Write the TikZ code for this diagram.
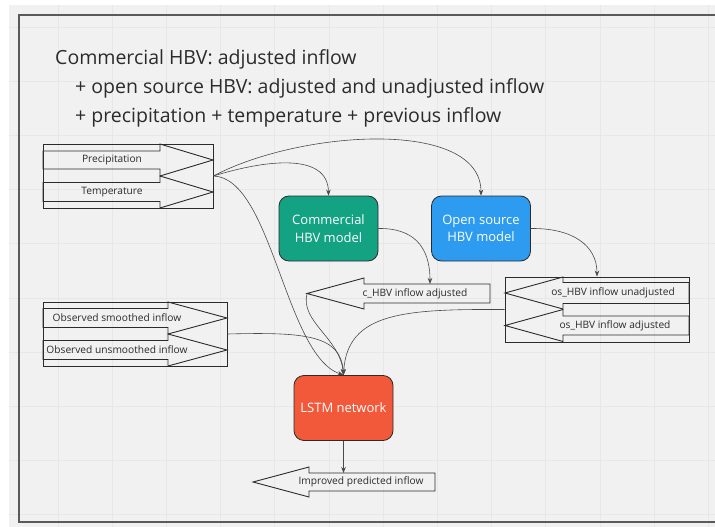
\documentclass[tikz,border=0pt]{standalone}
\usepackage{fontspec}
\setmainfont{Open Sans}
\usetikzlibrary{arrows.meta}

\definecolor{canvas}{HTML}{F1F1F1}
\definecolor{gridc}{HTML}{E7E7E7}
\definecolor{framec}{HTML}{5A5A5A}
\definecolor{inkc}{HTML}{2B2B2B}
\definecolor{wirec}{HTML}{4A4A4A}
\definecolor{commgreen}{HTML}{13A383}
\definecolor{osblue}{HTML}{2D9BF0}
\definecolor{lstmred}{HTML}{F2593A}

% block arrow outline: end x, head base x, tip x, centre y, body half height, head half height
\newcommand\arrowpoly[6]{%
  \draw[shapeline] (#1,#4-#5) -- (#2,#4-#5) -- (#2,#4-#6) -- (#3,#4)
    -- (#2,#4+#6) -- (#2,#4+#5) -- (#1,#4+#5) -- cycle;}

\tikzset{
  shapeline/.style={draw=inkc, line width=0.9pt},
  container/.style={draw=inkc, line width=0.9pt, inner sep=0pt},
  model/.style={draw=inkc, line width=0.8pt, rounded corners=10pt, inner sep=0pt,
    minimum width=99pt, minimum height=65pt, text=white, align=center,
    font=\fontsize{13}{17.5}\selectfont},
  lbl/.style={inner sep=0pt, text=inkc, font=\fontsize{10.2}{12}\selectfont},
  headline/.style={inner sep=0pt, anchor=base west, text=inkc,
    font=\fontsize{19.5}{23}\selectfont},
  wire/.style={draw=wirec, line width=0.6pt},
  wirearrow/.style={wire, -{Stealth[length=6pt,width=4.5pt]}},
}

\begin{document}
\begin{tikzpicture}[x=1pt,y=-1pt]
\useasboundingbox (0,0) rectangle (715,527);

% board background and grid
\fill[white] (0,0) rectangle (715,527);
\fill[canvas] (9,5) rectangle (715,527);
\foreach \i in {0,...,12} \draw[gridc, line width=0.8pt] ({58+54.2*\i},5) -- ({58+54.2*\i},527);
\foreach \j in {0,...,9} \draw[gridc, line width=0.8pt] (9,{27+54.2*\j}) -- (715,{27+54.2*\j});

% frame
\draw[framec, line width=1.6pt] (720,15) -- (19,15) -- (19,522) -- (720,522);

% heading
\node[headline] (head1) at (55,65) {Commercial HBV: adjusted inflow};
\node[headline] (head2) at (75,93.5) {+ open source HBV: adjusted and unadjusted inflow};
\node[headline] (head3) at (75,122) {+ precipitation + temperature + previous inflow};

% meteorological inputs
\node[container, minimum width=170pt, minimum height=64pt] (met) at (128,176) {};
\arrowpoly{43}{160}{213}{160}{9}{16}
\arrowpoly{43}{160}{213}{192}{9.5}{16}
\node[lbl] (precip) at (112,160) {Precipitation};
\node[lbl] (temp) at (112,192) {Temperature};

% observed inflow inputs
\node[container, minimum width=184pt, minimum height=64pt] (obs) at (135,334) {};
\arrowpoly{43}{168}{227}{318}{9.5}{16}
\arrowpoly{43}{168}{227}{350}{9.5}{16}
\node[lbl] (smooth) at (117,318) {Observed smoothed inflow};
\node[lbl] (unsmooth) at (117,350) {Observed unsmoothed inflow};

% models
\node[model, fill=commgreen] (comm) at (328.5,228.5) {Commercial\\HBV model};
\node[model, fill=osblue] (os) at (481,228.5) {Open source\\HBV model};
\node[model, fill=lstmred, font=\fontsize{13}{17}\selectfont] (lstm) at (343.5,408) {LSTM network};

% commercial HBV output
\arrowpoly{490}{364}{307}{293.5}{9.5}{15.5}
\node[lbl] (chbv) at (415,293.5) {c\_HBV inflow adjusted};
\coordinate (chbvin) at (430,284);
\coordinate (chbvtip) at (307,293.5);

% open source HBV outputs
\node[container, minimum width=184pt, minimum height=65pt] (osout) at (597,309.5) {};
\arrowpoly{689}{563}{505}{293}{10.5}{16}
\arrowpoly{689}{563}{505}{325.5}{9.5}{16}
\node[lbl] (osun) at (613,293) {os\_HBV inflow unadjusted};
\node[lbl] (osadj) at (615,325.5) {os\_HBV inflow adjusted};

% prediction
\arrowpoly{435}{309}{253}{482}{9}{15}
\node[lbl] (pred) at (361,482) {Improved predicted inflow};
\coordinate (predin) at (343.5,473);

% connectors
\draw[wirearrow] (met.east) .. controls (265,160) and (328,152) .. (comm.north);
\draw[wirearrow] (met.east) .. controls (300,130) and (481,118) .. (os.north);
\draw[wirearrow] (met.east) .. controls (272,178) and (285,355) .. (lstm.north);
\draw[wirearrow] (comm.east) .. controls (412,228) and (430,245) .. (chbvin);
\draw[wirearrow] (os.east) .. controls (572,228) and (597,245) .. (osout.north);
\draw[wirearrow] (chbvtip) .. controls (300,322) and (340,338) .. (lstm.north);
\draw[wirearrow] (obs.east) .. controls (305,332) and (341,335) .. (lstm.north);
\draw[wirearrow] (osout.west) .. controls (405,309) and (347,312) .. (lstm.north);
\draw[wirearrow] (lstm.south) -- (predin);
\end{tikzpicture}
\end{document}
